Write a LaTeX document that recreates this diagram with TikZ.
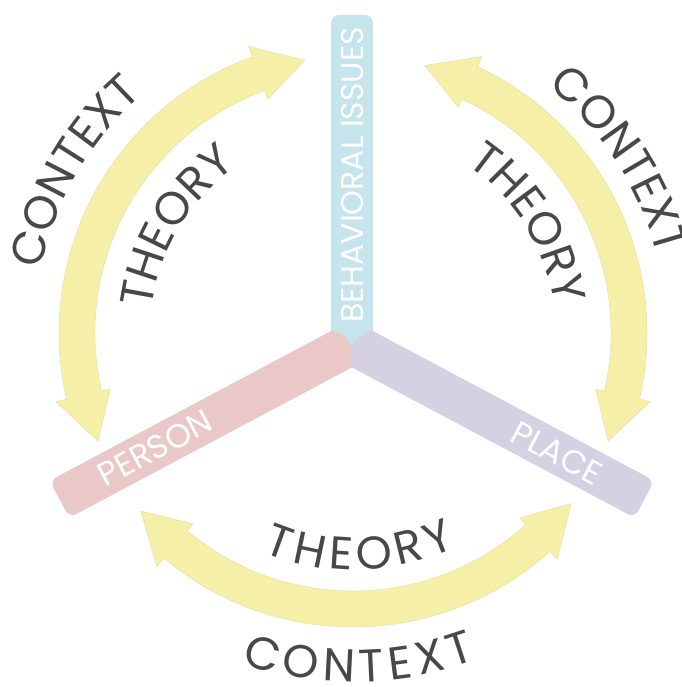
\documentclass[tikz,border=0pt]{standalone}
\usepackage{fontspec}
\setmainfont{Poppins}
\usetikzlibrary{calc,decorations.text}

\definecolor{issuesblue}{RGB}{197,228,235}
\definecolor{personpink}{RGB}{235,200,200}
\definecolor{placepurple}{RGB}{214,208,227}
\definecolor{arrowyellow}{RGB}{245,239,167}
\definecolor{arrowedge}{RGB}{228,222,160}
\definecolor{inkgray}{RGB}{72,72,72}
\newcommand{\ctxfont}{\fontsize{46}{50}\selectfont\color{inkgray}}
\newcommand{\barfont}{\fontsize{33}{36}\selectfont\color{white}}

\begin{document}
\begin{tikzpicture}[x=1pt,y=1pt,
  bartext/.style={inner sep=0pt,font=\barfont},
  loop arrow/.style={fill=arrowyellow,draw=arrowedge,line width=0.4pt},
  arcword/.style={decorate,decoration={text along path,text align=center,text={|\ctxfont|#1}}},
  wide arcword/.style={decorate,decoration={text along path,text align=center,text={|\ctxfont\kern5.5pt|#1}}}]
\useasboundingbox (-353,-354) rectangle (328,333);
\coordinate (hub) at (0,0);

\fill[issuesblue,rounded corners=8] (-22,-32) rectangle (20,318);
\begin{scope}[shift={(-11,-16)},rotate=208]
\fill[personpink] (0,-21) arc[start angle=231,end angle=129,radius=27] [rounded corners=8] -- (320,21) -- (320,-21) [sharp corners] -- cycle;
\end{scope}
\begin{scope}[shift={(9,-16)},rotate=-28]
\fill[placepurple] (0,-21) arc[start angle=231,end angle=129,radius=27] [rounded corners=8] -- (320,21) -- (320,-21) [sharp corners] -- cycle;
\end{scope}

\draw node[bartext,rotate=90,font=\fontsize{31.5}{34}\selectfont\color{white}] (issueslabel) at ($ (hub)+(-1,158) $) {BEHAVIORAL ISSUES};
\draw node[bartext,rotate=28] (personlabel) at ($ (hub)+(-198,-115) $) {PERSON};
\draw node[bartext,rotate=-28] (placelabel) at ($ (hub)+(204,-120) $) {PLACE};

\draw[loop arrow] (100:277) -- (110:305) -- (110:294) arc[start angle=110,end angle=193,radius=294] -- (193:305) -- (203:277) -- (193:249) -- (193:258) arc[start angle=193,end angle=110,radius=258] -- (110:249) -- cycle;
\draw[loop arrow] (75:277) -- (65:305) -- (65:294) arc[start angle=65,end angle=-13,radius=294] -- (-13:305) -- (-23:277) -- (-13:249) -- (-13:258) arc[start angle=-13,end angle=65,radius=258] -- (65:249) -- cycle;
\draw[loop arrow] (220:277) -- (230:305) -- (230:294) arc[start angle=230,end angle=312,radius=294] -- (312:305) -- (322:277) -- (312:249) -- (312:258) arc[start angle=312,end angle=230,radius=258] -- (230:249) -- cycle;

\path[arcword=CONTEXT] (190:318) arc[start angle=190,end angle=110,radius=318];
\path[arcword=THEORY] (199:203) arc[start angle=199,end angle=99,radius=203];
\path[arcword=CONTEXT] (73:314) arc[start angle=73,end angle=-7,radius=314];
\path[arcword=THEORY] (82:203) arc[start angle=82,end angle=-18,radius=203];
\path[wide arcword=THEORY] (221:237) arc[start angle=221,end angle=321,radius=237];
\path[wide arcword=CONTEXT] (225.5:349) arc[start angle=225.5,end angle=315.5,radius=349];

\end{tikzpicture}
\end{document}
